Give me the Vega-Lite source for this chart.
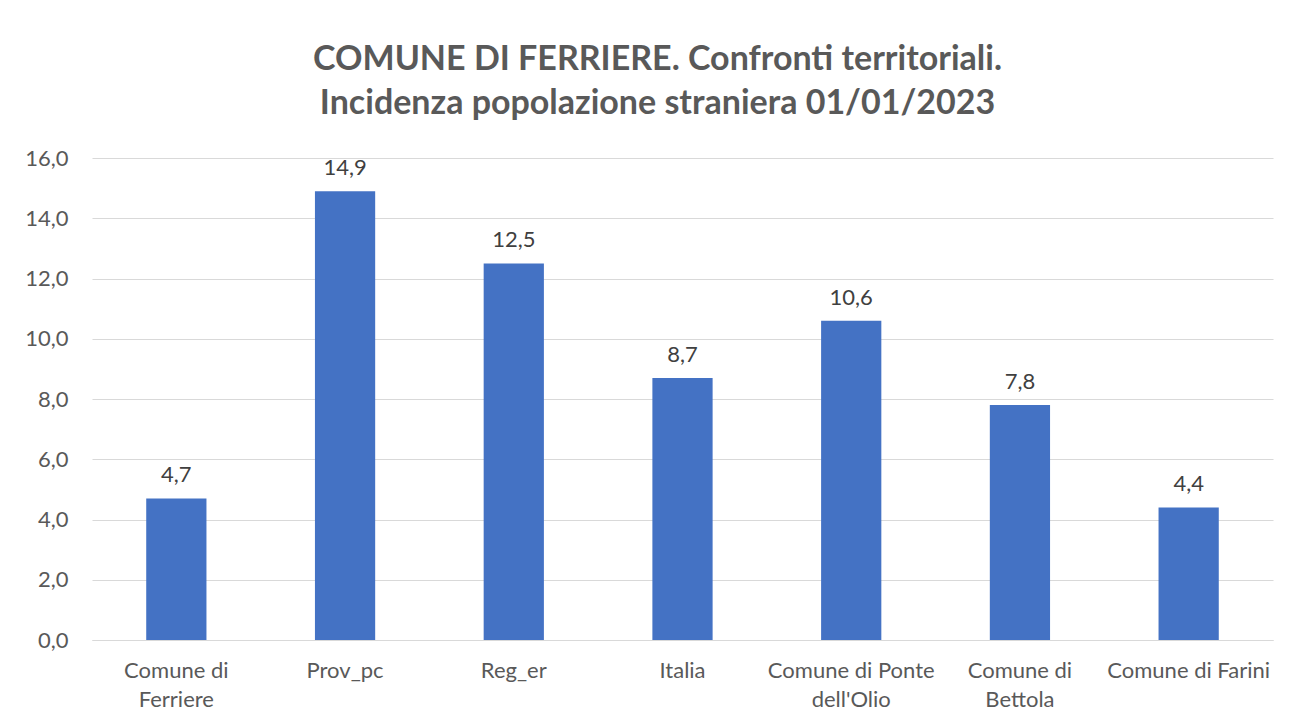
{
  "$schema": "https://vega.github.io/schema/vega-lite/v6.json",
  "width": 1181,
  "height": 482,
  "autosize": {"type": "none"},
  "padding": {"left": 92, "top": 158, "right": 17, "bottom": 85},
  "background": "white",
  "config": {
    "locale": {"number": {"decimal": ",", "thousands": ".", "grouping": [3], "currency": ["€", ""]}},
    "view": {"stroke": null},
    "font": "Lato"
  },
  "title": {
    "text": ["COMUNE DI FERRIERE. Confronti territoriali.", "Incidenza popolazione straniera 01/01/2023"],
    "fontSize": 34,
    "fontWeight": "bold",
    "font": "Lato",
    "color": "#595959",
    "lineHeight": 44,
    "anchor": "middle",
    "dx": -25,
    "offset": 26
  },
  "data": {
    "values": [
      {"territorio": "Comune di Ferriere", "incidenza": 4.7},
      {"territorio": "Prov_pc", "incidenza": 14.9},
      {"territorio": "Reg_er", "incidenza": 12.5},
      {"territorio": "Italia", "incidenza": 8.7},
      {"territorio": "Comune di Ponte dell'Olio", "incidenza": 10.6},
      {"territorio": "Comune di Bettola", "incidenza": 7.8},
      {"territorio": "Comune di Farini", "incidenza": 4.4}
    ]
  },
  "encoding": {
    "x": {
      "field": "territorio",
      "type": "nominal",
      "sort": null,
      "scale": {"paddingInner": 0.643, "paddingOuter": 0.3214},
      "axis": {
        "title": null,
        "labelAngle": 0,
        "labelFontSize": 22,
        "labelColor": "#595959",
        "labelFont": "Lato",
        "labelLineHeight": 29,
        "labelPadding": 20,
        "ticks": false,
        "domainColor": "#d9d9d9",
        "domainWidth": 1,
        "labelExpr": "datum.label == 'Comune di Ferriere' ? ['Comune di', 'Ferriere'] : datum.label == \"Comune di Ponte dell'Olio\" ? ['Comune di Ponte', \"dell'Olio\"] : datum.label == 'Comune di Bettola' ? ['Comune di', 'Bettola'] : datum.label"
      }
    },
    "y": {
      "field": "incidenza",
      "type": "quantitative",
      "scale": {"domain": [0, 16]},
      "axis": {
        "title": null,
        "values": [0, 2, 4, 6, 8, 10, 12, 14, 16],
        "format": ".1f",
        "labelFontSize": 22,
        "labelColor": "#595959",
        "labelFont": "Lato",
        "labelPadding": 24,
        "ticks": false,
        "domain": false,
        "gridColor": "#d9d9d9",
        "gridWidth": 1
      }
    }
  },
  "layer": [
    {"mark": {"type": "bar", "color": "#4472C4"}},
    {
      "mark": {"type": "text", "baseline": "bottom", "dy": -11, "fontSize": 22, "color": "#404040", "font": "Lato"},
      "encoding": {"text": {"field": "incidenza", "type": "quantitative", "format": ".1f"}}
    }
  ]
}
